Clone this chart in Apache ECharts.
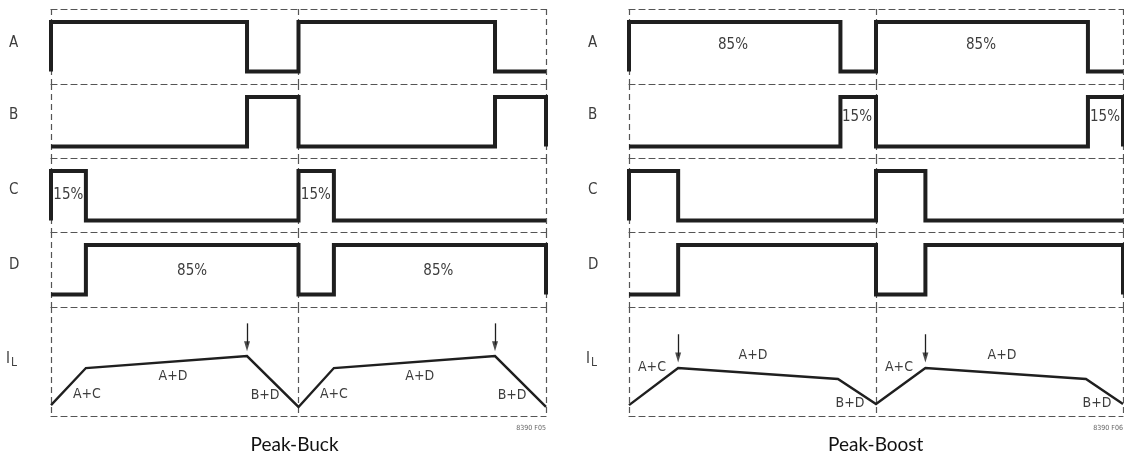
<!DOCTYPE html>
<html><head><meta charset="utf-8">
<script src="https://cdn.jsdelivr.net/npm/echarts@6/dist/echarts.min.js"></script>
<style>html,body{margin:0;padding:0;background:#fff}#c{width:1124px;height:457px}</style>
</head><body><div id="c"></div>
<script>
// ---- Data (time in switching periods, signal level 0/1, inductor current in arbitrary units) ----
const rowNames = ['A', 'B', 'C', 'D'];
const panelTitles = ['Peak-Buck', 'Peak-Boost'];
const figureCodes = ['8390 F05', '8390 F06'];

// [time, level] change points (drawn with step:'end')
const buckA = [[0,0],[0,1],[0.792,0],[1,1],[1.794,0],[2,0]];
const buckB = [[0,0],[0.792,1],[1,0],[1.794,1],[2,0]];
const buckC = [[0,0],[0,1],[0.141,0],[1,1],[1.143,0],[2,0]];
const buckD = [[0,0],[0.141,1],[1,0],[1.143,1],[2,0]];
const buckIL = [[0,1.0],[0.141,4.4],[0.792,5.5],[1,0.83],[1.143,4.4],[1.794,5.5],[2,0.83]];
const buckArrowT = [0.792, 1.794];

const boostA = [[0,0],[0,1],[0.856,0],[1,1],[1.858,0],[2,0]];
const boostB = [[0,0],[0.856,1],[1,0],[1.858,1],[2,0]];
const boostC = [[0,0],[0,1],[0.199,0],[1,1],[1.2,0],[2,0]];
const boostD = [[0,0],[0.199,1],[1,0],[1.2,1],[2,0]];
const boostIL = [[0,1.0],[0.199,4.4],[0.846,3.4],[1,1.1],[1.2,4.4],[1.85,3.4],[2,1.1]];
const boostArrowT = [0.199, 1.2];

// ---- Layout ----
const COND = '"Liberation Sans Narrow","Arial Narrow","DejaVu Sans Condensed",Roboto,sans-serif';
const TXT = '#3d3d3d';
const dash = {color:'#555', width:1.2, type:[6,4]};
const ARROW = 'path://M0,0 L10,0 L5,18 Z';
const panels = [
  {left:51, width:495, sig:[buckA,buckB,buckC,buckD], il:buckIL, arrows:buckArrowT, arrowFrom:8.5, arrowTo:5.95,
   sigNotes:[[], [], [['15%',0.07,0.52],['15%',1.07,0.52]], [['85%',0.57,0.47],['85%',1.565,0.47]]],
   ilNotes:[['A+C',0.145,2.0],['A+D',0.493,3.67],['B+D',0.865,1.93],['A+C',1.143,2.0],['A+D',1.49,3.67],['B+D',1.863,1.93]],
   labelX:14, ilX:10, title:0},
  {left:629, width:494, sig:[boostA,boostB,boostC,boostD], il:boostIL, arrows:boostArrowT, arrowFrom:7.5, arrowTo:4.9,
   sigNotes:[[['85%',0.421,0.535],['85%',1.425,0.535]], [['15%',0.923,0.6],['15%',1.927,0.6]], [], []],
   ilNotes:[['A+C',0.093,4.5],['A+D',0.502,5.6],['B+D',0.895,1.2],['A+C',1.093,4.5],['A+D',1.51,5.6],['B+D',1.895,1.2]],
   labelX:593, ilX:590, title:1}
];
const rowTops = [9, 84, 158, 232, 307];
const rowH = [75, 74, 74, 75, 109];
const labelY = [45, 117, 192, 267];

const grid = [], xAxis = [], yAxis = [], series = [], graphic = [];
const extraX = [];
panels.forEach((p, pi) => {
  for (let r = 0; r < 5; r++) {
    const g = pi * 5 + r;
    grid.push({left:p.left, width:p.width, top:rowTops[r], height:rowH[r]});
    xAxis.push({gridIndex:g, type:'value', min:0, max:2, interval:1, position:'top',
      axisLine:{show:true, onZero:false, lineStyle:dash}, axisTick:{show:false}, axisLabel:{show:false},
      splitLine:{show:true, lineStyle:dash}});
    if (r < 4) {
      const unit = 49.5;
      yAxis.push({gridIndex:g, type:'value', show:false, min:-(rowH[r]-62.5)/unit, max:1+13/unit});
      const notes = p.sigNotes[r];
      series.push({type:'line', xAxisIndex:g, yAxisIndex:g, data:p.sig[r], step:'end', symbol:'none', clip:false, silent:true,
        lineStyle:{color:'#1f1f1f', width:4, join:'miter', cap:'butt'},
        markPoint: notes.length ? {symbol:'circle', symbolSize:0, silent:true, animation:false,
          label:{show:true, position:'inside', formatter:(q)=>q.name, color:TXT, fontSize:15, fontFamily:COND},
          data: notes.map(n => ({name:n[0], coord:[n[1], n[2]]}))} : undefined});
      graphic.push({type:'text', left:p.labelX - 5, top:labelY[r] - 9, silent:true,
        style:{text:rowNames[r], fill:TXT, font:'15px ' + COND}});
    } else {
      yAxis.push({gridIndex:g, type:'value', show:false, min:0, max:10});
      extraX.push({gridIndex:g, type:'value', min:0, max:2, position:'bottom',
        axisLine:{show:true, onZero:false, lineStyle:dash}, axisTick:{show:false}, axisLabel:{show:false}, splitLine:{show:false}});
      series.push({type:'line', xAxisIndex:g, yAxisIndex:g, data:p.il, symbol:'none', clip:false, silent:true,
        lineStyle:{color:'#1f1f1f', width:2.4, join:'miter'},
        markPoint:{symbol:'circle', symbolSize:0, silent:true, animation:false,
          label:{show:true, position:'inside', formatter:(q)=>q.name, color:TXT, fontSize:14, fontFamily:COND},
          data:p.ilNotes.map(n => ({name:n[0], coord:[n[1], n[2]]}))},
        markLine:{silent:true, animation:false, symbol:['none','none'],
          label:{show:false}, lineStyle:{color:'#1f1f1f', width:1.3, type:'solid'},
          data:p.arrows.map(t => [{coord:[t, p.arrowFrom]}, {coord:[t, p.arrowTo + 0.6]}])}});
      // arrow heads
      series.push({type:'scatter', xAxisIndex:g, yAxisIndex:g, silent:true, clip:false,
        symbol:ARROW, symbolSize:[6,10], symbolOffset:[0,-5], itemStyle:{color:'#1f1f1f'},
        data:p.arrows.map(t => [t, p.arrowTo])});
      graphic.push({type:'text', left:p.ilX - 4, top:352, silent:true, style:{text:'I', fill:TXT, font:'15px ' + COND}});
      graphic.push({type:'text', left:p.ilX + 1, top:357, silent:true, style:{text:'L', fill:TXT, font:'12px ' + COND}});
    }
  }
  graphic.push({type:'text', left:p.left + p.width / 2 - 48, top:435, silent:true,
    style:{text:panelTitles[p.title], fill:'#111', font:'19px Lato, "Open Sans", sans-serif', textAlign:'left'}});
  graphic.push({type:'text', right:1124 - (p.left + p.width) , top:425, silent:true,
    style:{text:figureCodes[p.title], fill:'#666', font:'7px ' + COND}});
});
xAxis.push(...extraX);

const chart = echarts.init(document.getElementById('c'), null, {renderer:'canvas'});
chart.setOption({animation:false, backgroundColor:'#fff', grid, xAxis, yAxis, series, graphic});
</script>
</body></html>
